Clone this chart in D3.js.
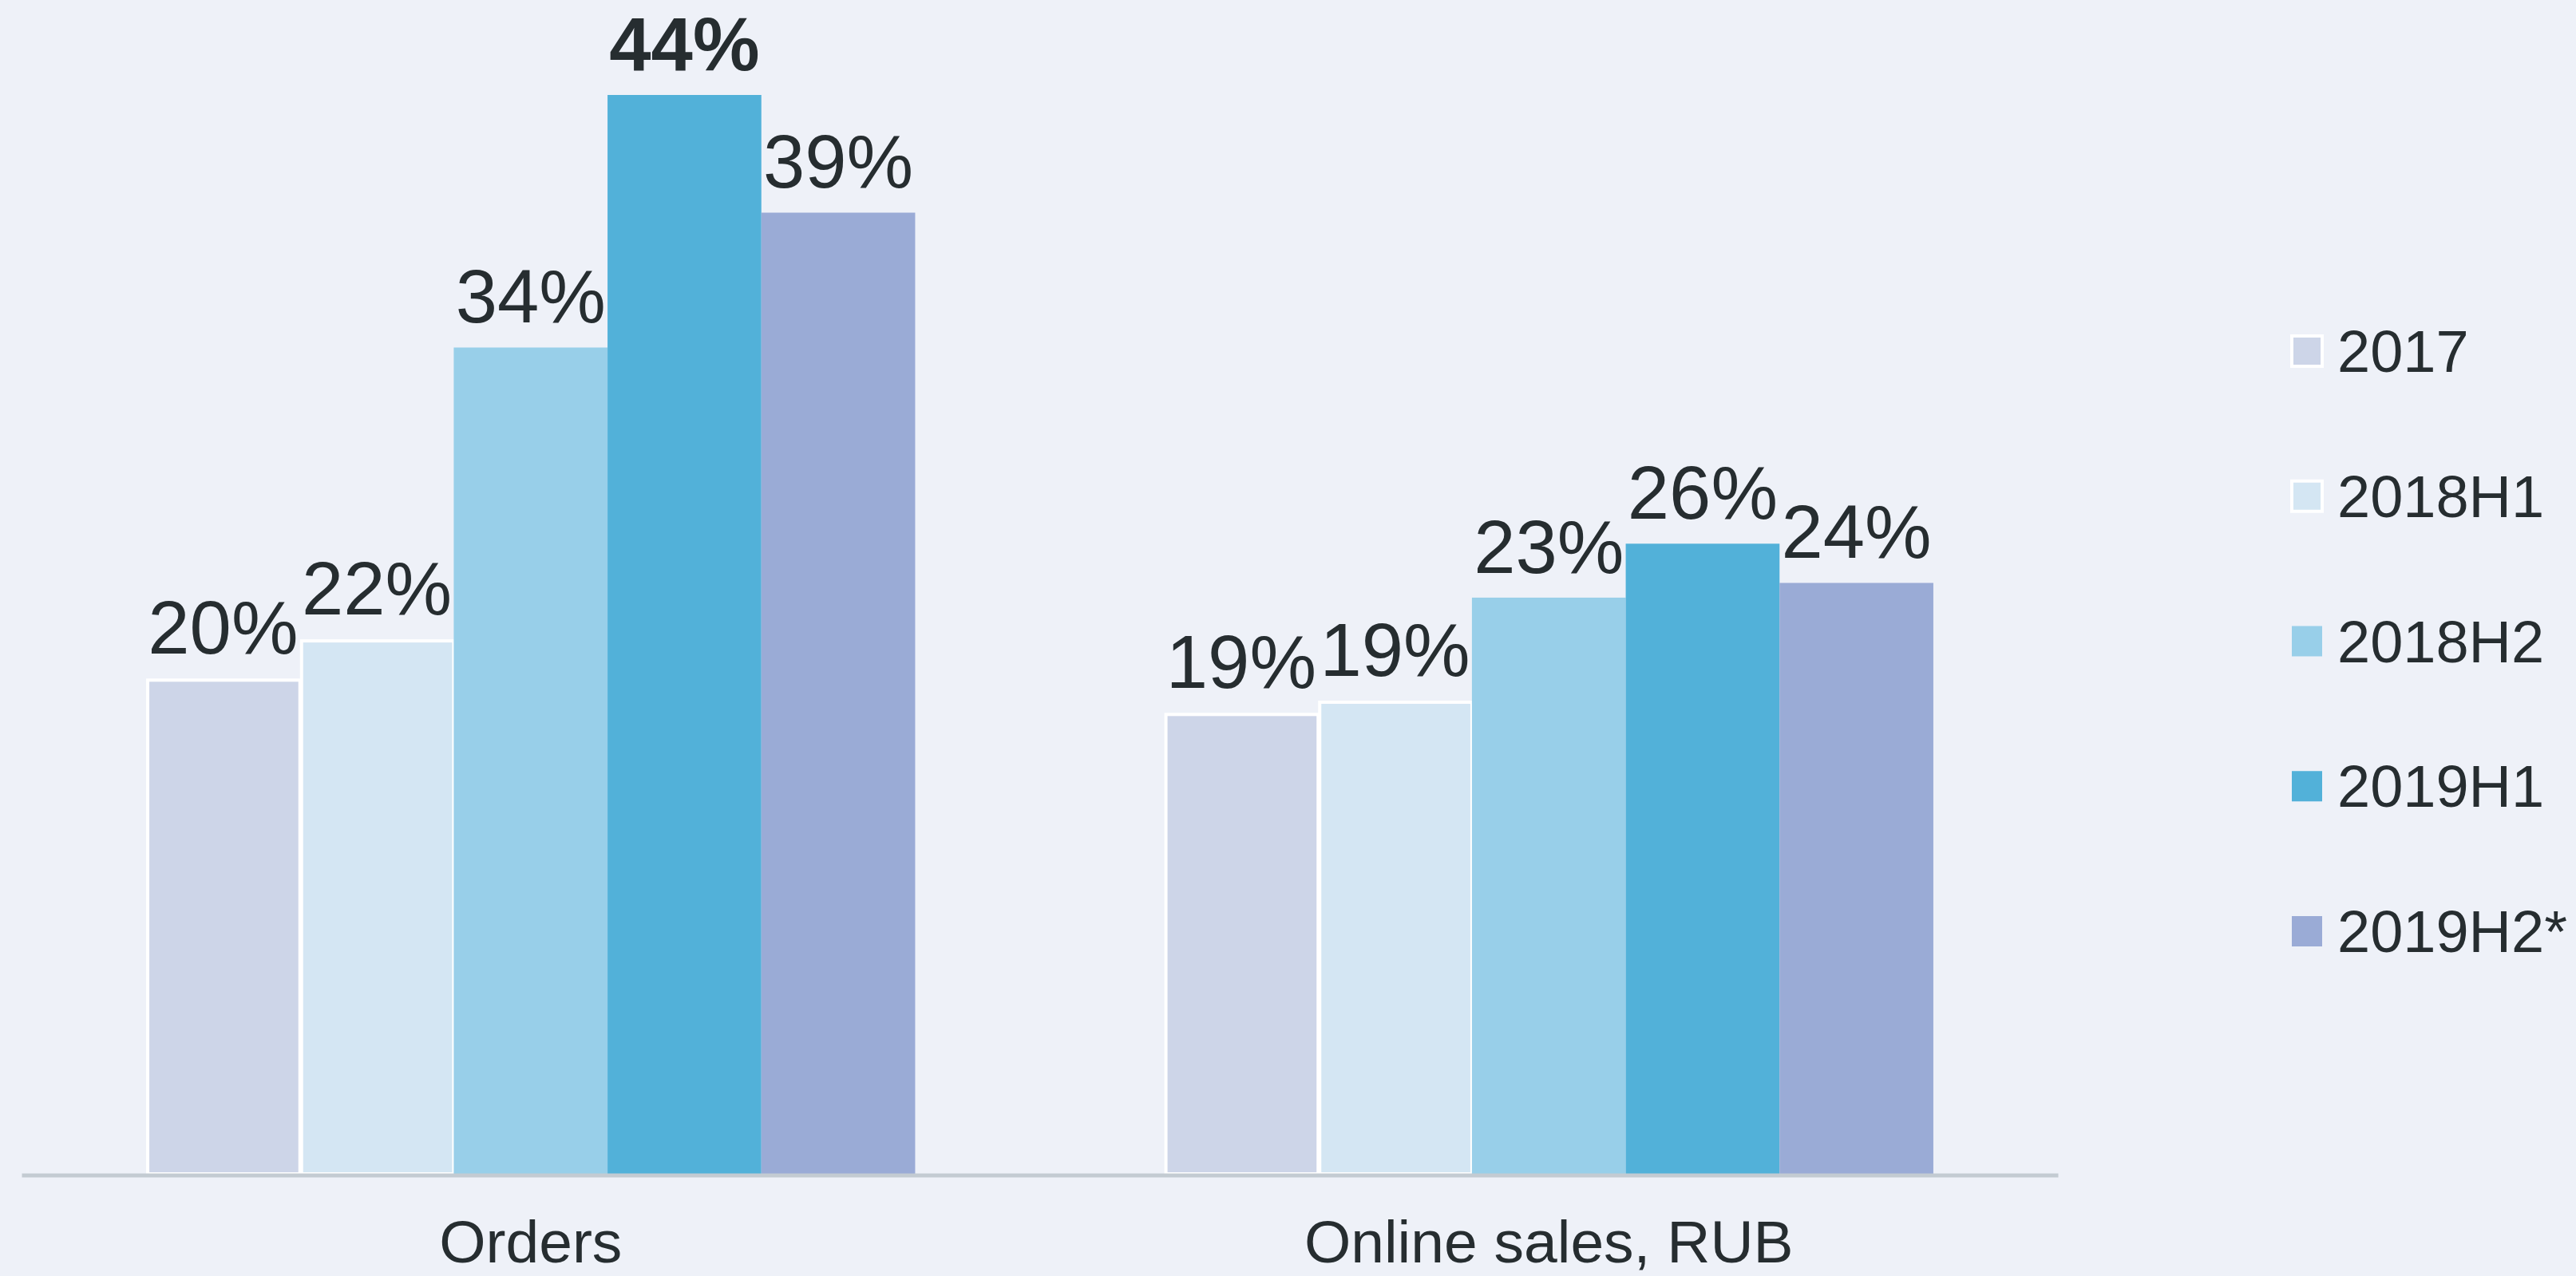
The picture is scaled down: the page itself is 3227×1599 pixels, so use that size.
<!DOCTYPE html>
<html>
<head>
<meta charset="utf-8">
<script src="https://cdn.jsdelivr.net/npm/d3@7"></script>
<style>
  html, body { margin: 0; padding: 0; background: #eef1f8; }
  svg { display: block; }
  text { font-family: "Liberation Sans", Arial, sans-serif; fill: #262d30; }
</style>
</head>
<body>
<script>
const categories = ["Orders", "Online sales, RUB"];
const seriesNames = ["2017", "2018H1", "2018H2", "2019H1", "2019H2*"];
const ordersValues = [20.2, 21.8, 33.7, 44, 39.2];
const onlineValues = [18.8, 19.3, 23.5, 25.7, 24.1];
const ordersLabels = ["20%", "22%", "34%", "44%", "39%"];
const onlineLabels = ["19%", "19%", "23%", "26%", "24%"];
const seriesColors = ["#cdd5e8", "#d4e6f3", "#98cfe9", "#52b1d9", "#9aabd6"];
const boldLabel = { cat: "Orders", series: "2019H1" };

const W = 3227, H = 1599;
const svg = d3.select("body").append("svg").attr("width", W).attr("height", H);
svg.append("rect").attr("width", W).attr("height", H).attr("fill", "#eef1f8");

const rows = [];
categories.forEach((c, ci) => {
  const vals = ci === 0 ? ordersValues : onlineValues;
  const labs = ci === 0 ? ordersLabels : onlineLabels;
  seriesNames.forEach((s, si) => rows.push({ cat: c, series: s, value: vals[si], label: labs[si], si }));
});

const x0 = d3.scaleBand().domain(categories).range([27, 2578]).padding(0);
const x1 = d3.scaleBand().domain(seriesNames).range([0, x0.bandwidth()]).paddingInner(0).paddingOuter(0.81);
const y = d3.scaleLinear().domain([0, 44]).range([1471, 119]);
const color = d3.scaleOrdinal().domain(seriesNames).range(seriesColors);

const g = svg.append("g");

g.selectAll("rect.bar").data(rows).join("rect")
  .attr("class", "bar")
  .attr("x", d => x0(d.cat) + x1(d.series) + (d.si < 2 ? 2 : 0))
  .attr("width", d => x1.bandwidth() - (d.si < 2 ? 2 : 0))
  .attr("y", d => y(d.value) + (d.si < 2 ? 2 : 0))
  .attr("height", d => y(0) - y(d.value) - (d.si < 2 ? 2 : 0))
  .attr("fill", d => color(d.series))
  .attr("stroke", d => d.si < 2 ? "#ffffff" : "none")
  .attr("stroke-width", 4);

g.selectAll("text.lbl").data(rows).join("text")
  .attr("class", "lbl")
  .attr("x", d => x0(d.cat) + x1(d.series) + x1.bandwidth() / 2)
  .attr("y", d => y(d.value) - 31)
  .attr("text-anchor", "middle")
  .attr("font-size", 94)
  .attr("font-weight", d => (d.cat === boldLabel.cat && d.series === boldLabel.series) ? "bold" : "normal")
  .text(d => d.label);

const axis = svg.append("g")
  .attr("transform", `translate(0,${1472.5})`)
  .call(d3.axisBottom(x0).tickSize(0).tickSizeOuter(0).tickPadding(56));
axis.select(".domain").attr("stroke", "#c3cbd2").attr("stroke-width", 5);
axis.selectAll(".tick text")
  .attr("font-size", 75)
  .attr("font-family", "'Liberation Sans', Arial, sans-serif")
  .attr("fill", "#262d30");

// Legend
const legendY = d3.scalePoint().domain(seriesNames).range([440, 1167]);
const lg = svg.append("g");
const items = lg.selectAll("g").data(seriesNames).join("g")
  .attr("transform", d => `translate(2871,${legendY(d)})`);
items.append("rect")
  .attr("x", 0).attr("y", -19).attr("width", 38).attr("height", 38)
  .attr("fill", d => color(d))
  .attr("stroke", (d, i) => i < 2 ? "#ffffff" : "none")
  .attr("stroke-width", 4);
items.append("text")
  .attr("x", 57).attr("y", 26)
  .attr("font-size", 74)
  .text(d => d);
</script>
</body>
</html>
